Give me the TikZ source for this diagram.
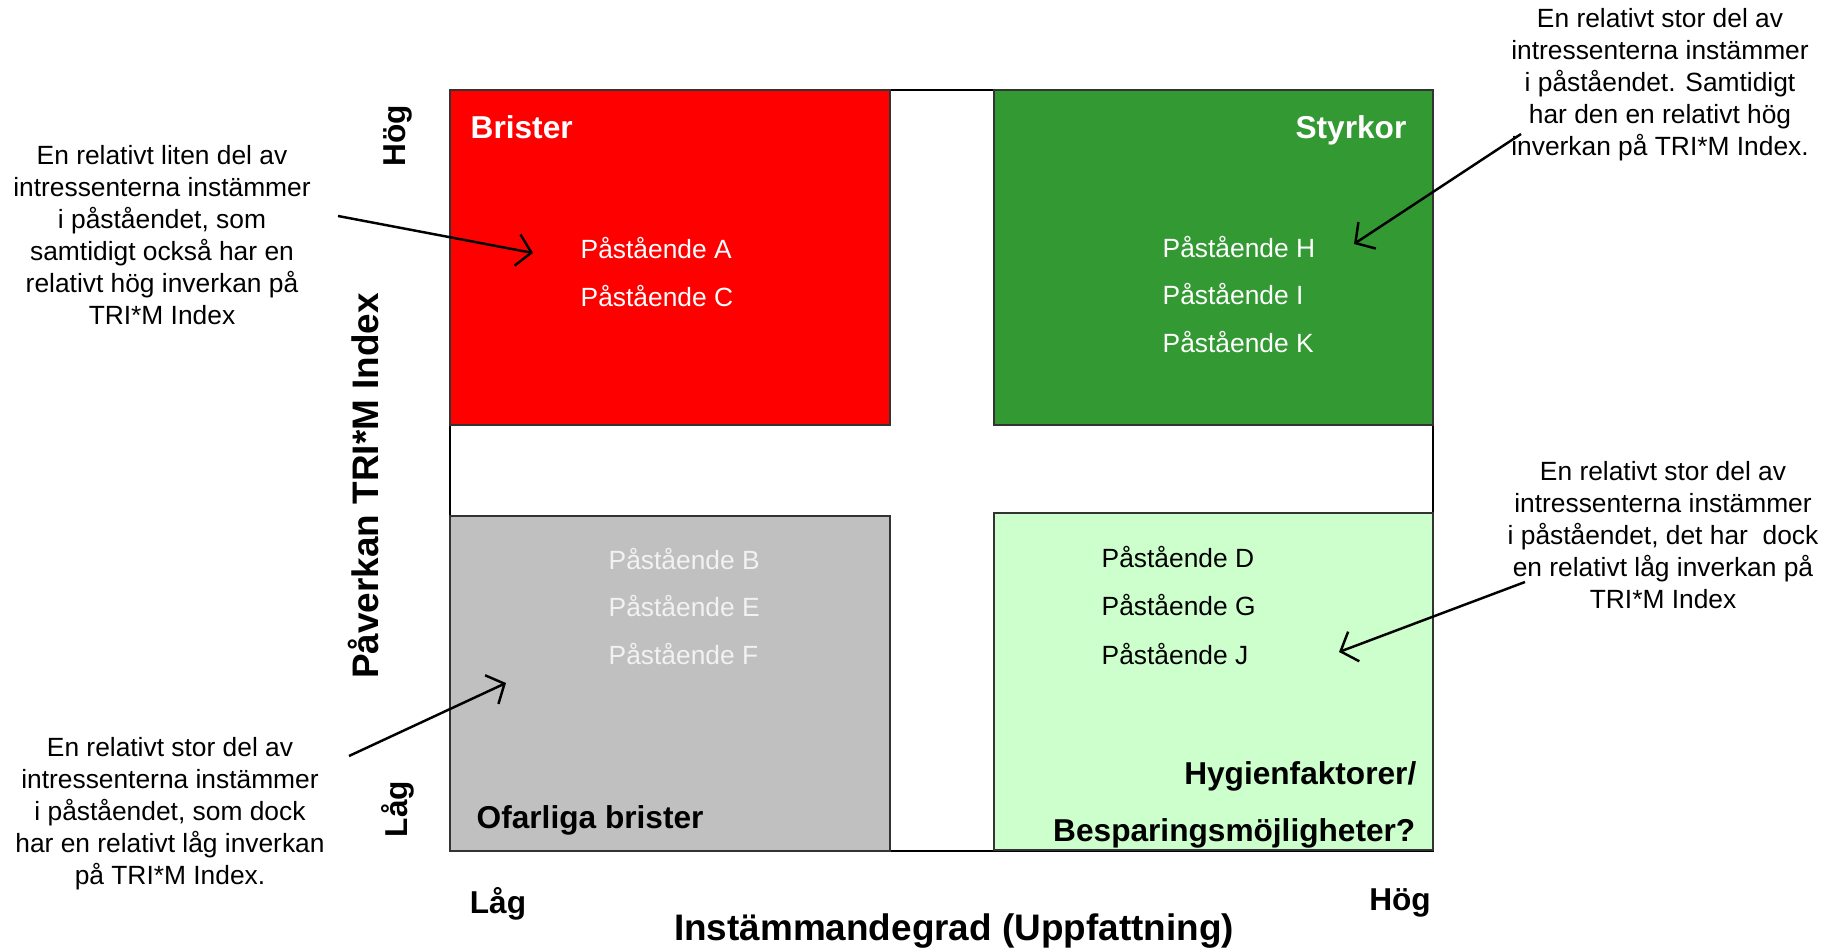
\documentclass[tikz,border=0pt]{standalone}
\usepackage{fontspec}
\setmainfont{Liberation Sans}
\usetikzlibrary{arrows.meta}

\definecolor{bristRed}{RGB}{255,0,0}
\definecolor{styrkGreen}{RGB}{51,153,51}
\definecolor{ofarligGray}{RGB}{192,192,192}
\definecolor{hygienGreen}{RGB}{204,255,204}
\definecolor{paleText}{RGB}{242,242,242}

\begin{document}
\begin{tikzpicture}[
  body/.style={font=\fontsize{7.5}{9.1}\selectfont, inner sep=0pt},
  heading/.style={font=\fontsize{9}{11}\selectfont\bfseries, inner sep=0pt},
  axistitle/.style={font=\fontsize{10.5}{12.6}\selectfont\bfseries, inner sep=0pt},
  note/.style={body, align=center},
  quad/.style={draw=black!80, line width=0.4pt},
  pil/.style={-{Straight Barb[length=4pt,width=9pt]}, line width=0.7pt}
]
  \useasboundingbox (0,0) rectangle (18.25,9.47);

  % Frame
  \draw[line width=0.4pt] (4.50,0.96) rectangle (14.33,8.57);

  % Brister (upper left)
  \filldraw[fill=bristRed, quad] (4.50,5.22) rectangle (8.90,8.57);
  \node[heading, white, anchor=west] (brister) at (4.70,8.20) {Brister};
  \node[body, white, anchor=west] (pA) at (5.80,6.99) {Påstående A};
  \node[body, white, anchor=west] (pC) at (5.80,6.51) {Påstående C};

  % Styrkor (upper right)
  \filldraw[fill=styrkGreen, quad] (9.94,5.22) rectangle (14.33,8.57);
  \node[heading, white, anchor=east] (styrkor) at (14.07,8.17) {Styrkor};
  \node[body, white, anchor=west] (pH) at (11.62,7.00) {Påstående H};
  \node[body, white, anchor=west] (pI) at (11.62,6.53) {Påstående I};
  \node[body, white, anchor=west] (pK) at (11.62,6.05) {Påstående K};

  % Ofarliga brister (lower left)
  \filldraw[fill=ofarligGray, quad] (4.50,0.96) rectangle (8.90,4.31);
  \node[heading, anchor=west] (ofarliga) at (4.76,1.27) {Ofarliga brister};
  \node[body, paleText, anchor=west] (pB) at (6.08,3.88) {Påstående B};
  \node[body, paleText, anchor=west] (pE) at (6.08,3.41) {Påstående E};
  \node[body, paleText, anchor=west] (pF) at (6.08,2.93) {Påstående F};

  % Hygienfaktorer (lower right)
  \filldraw[fill=hygienGreen, quad] (9.94,0.97) rectangle (14.33,4.34);
  \node[heading, anchor=east] (hygien) at (14.17,1.71) {Hygienfaktorer/};
  \node[heading, anchor=east] (besparing) at (14.16,1.14) {Besparingsmöjligheter?};
  \node[body, anchor=west] (pD) at (11.01,3.90) {Påstående D};
  \node[body, anchor=west] (pG) at (11.01,3.42) {Påstående G};
  \node[body, anchor=west] (pJ) at (11.01,2.93) {Påstående J};

  % Axes
  \node[heading, rotate=90] (yHog) at (3.98,8.11) {Hög};
  \node[heading, rotate=90] (yLag) at (3.98,1.38) {Låg};
  \node[axistitle, rotate=90] (yTitle) at (3.63,4.61) {Påverkan TRI*M Index};
  \node[heading] (xLag) at (4.98,0.43) {Låg};
  \node[heading] (xHog) at (14.00,0.44) {Hög};
  \node[axistitle] (xTitle) at (9.54,0.16) {Instämmandegrad (Uppfattning)};

  % Notes
  \node[note] (noteBrister) at (1.62,7.12) {En relativt liten del av\\intressenterna instämmer\\i påståendet, som\\samtidigt också har en\\relativt hög inverkan på\\TRI*M Index};
  \node[note] (noteOfarlig) at (1.70,1.33) {En relativt stor del av\\intressenterna instämmer\\i påståendet, som dock\\har en relativt låg inverkan\\på TRI*M Index.};
  \node[note] (noteStyrkor) at (16.60,8.62) {En relativt stor del av\\intressenterna instämmer\\i påståendet. Samtidigt\\har den en relativt hög\\inverkan på TRI*M Index.};
  \node[note] (noteHygien) at (16.63,4.12) {En relativt stor del av\\intressenterna instämmer\\i påståendet, det har\ \ dock\\en relativt låg inverkan på\\TRI*M Index};

  % Arrows
  \coordinate (fromBrister) at (3.38,7.31);
  \coordinate (toBrister) at (5.33,6.94);
  \coordinate (fromStyrkor) at (15.21,8.13);
  \coordinate (toStyrkor) at (13.54,7.03);
  \coordinate (fromHygien) at (15.25,3.65);
  \coordinate (toHygien) at (13.39,2.95);
  \coordinate (fromOfarlig) at (3.49,1.91);
  \coordinate (toOfarlig) at (5.06,2.64);
  \draw[pil] (fromBrister) -- (toBrister);
  \draw[pil] (fromStyrkor) -- (toStyrkor);
  \draw[pil] (fromHygien) -- (toHygien);
  \draw[pil] (fromOfarlig) -- (toOfarlig);

\end{tikzpicture}
\end{document}
